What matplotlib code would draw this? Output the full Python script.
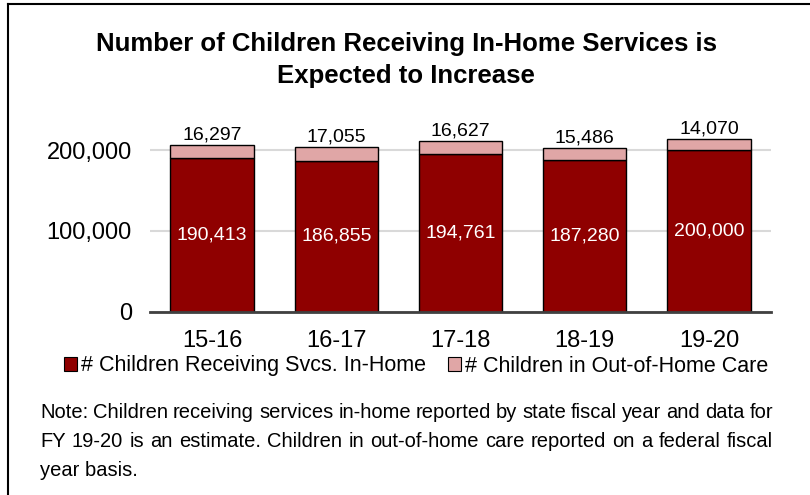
import matplotlib
matplotlib.use("Agg")
import matplotlib.pyplot as plt
from matplotlib.lines import Line2D
from matplotlib.patches import Patch
import numpy as np

plt.rcParams['font.family'] = ['Liberation Sans', 'DejaVu Sans']

years = ['15-16', '16-17', '17-18', '18-19', '19-20']
in_home = [190413, 186855, 194761, 187280, 200000]
out_of_home = [16297, 17055, 16627, 15486, 14070]

title = 'Number of Children Receiving In-Home Services is\nExpected to Increase'
legend_labels = ['# Children Receiving Svcs. In-Home', '# Children in Out-of-Home Care']
note_lines = [
    'Note: Children receiving services in-home reported by state fiscal year and data for',
    'FY 19-20 is an estimate. Children in out-of-home care reported on a federal fiscal',
    'year basis.',
]

dark_red = '#8f0000'
pink = '#e0a6a6'

W, H = 810, 495
fig = plt.figure(figsize=(W / 100, H / 100), dpi=100)
ax = fig.add_axes([150 / W, 1 - 312 / H, 621 / W, 202.5 / H])

x = np.arange(len(years))
b1 = ax.bar(x, in_home, width=0.67, color=dark_red, edgecolor='black', linewidth=1, zorder=3)
b2 = ax.bar(x, out_of_home, width=0.67, bottom=in_home, color=pink, edgecolor='black',
            linewidth=1, zorder=3)

# value labels: in-home centred in the bar, out-of-home on top
for i in range(len(years)):
    ax.text(x[i], in_home[i] / 2, f'{in_home[i]:,}', ha='center', va='center',
            color='white', fontsize=14, zorder=4)
    ax.text(x[i], in_home[i] + out_of_home[i] + 1500, f'{out_of_home[i]:,}', ha='center',
            va='bottom', color='black', fontsize=14, zorder=4)

ax.set_xlim(-0.5, 4.5)
ax.set_ylim(0, 250000)
ax.set_yticks([0, 100000, 200000])
ax.set_yticklabels(['0', '100,000', '200,000'], fontsize=17)
ax.set_xticks(x)
ax.set_xticklabels(years, fontsize=17)
ax.yaxis.grid(True, color='#d9d9d9', linewidth=1.5, zorder=0)
for s in ['top', 'right', 'left']:
    ax.spines[s].set_visible(False)
ax.spines['bottom'].set_color('#404040')
ax.spines['bottom'].set_linewidth(2)
ax.spines['bottom'].set_zorder(5)
ax.tick_params(length=0)
ax.tick_params(axis='y', pad=13)
ax.tick_params(axis='x', pad=13)

fig.text(406 / W, 1 - 60 / H, title, ha='center', va='center', fontsize=18.5,
         fontweight='bold', linespacing=1.4)

handles = [Patch(facecolor=dark_red, edgecolor='black', linewidth=0.8),
           Patch(facecolor=pink, edgecolor='black', linewidth=0.8)]
fig.legend(handles, legend_labels, loc='center', bbox_to_anchor=(416 / W, 1 - 366 / H),
           ncol=2, frameon=False, fontsize=15.5, handlelength=0.6, handleheight=0.6,
           handletextpad=0.2, columnspacing=1.0, borderpad=0)

# justified note text
renderer = fig.canvas.get_renderer()
x0, x1 = 40, 773
for k, line in enumerate(note_lines):
    y = 1 - (413 + 28.5 * k) / H
    if k == len(note_lines) - 1:
        fig.text(x0 / W, y, line, ha='left', va='center', fontsize=14.5)
        continue
    words = line.split(' ')
    texts = [fig.text(0, y, w, ha='left', va='center', fontsize=14.5) for w in words]
    widths = [t.get_window_extent(renderer).width for t in texts]
    gap = (x1 - x0 - sum(widths)) / (len(words) - 1)
    pos = x0
    for t, w in zip(texts, widths):
        t.set_x(pos / W)
        pos += w + gap

# outer frame: left and top edges
fig.add_artist(Line2D([8 / W, 8 / W], [0, 1 - 4 / H], color='black', linewidth=1.5))
fig.add_artist(Line2D([8 / W, 1], [1 - 4 / H, 1 - 4 / H], color='black', linewidth=1.5))

fig.savefig('out.png', dpi=100)
